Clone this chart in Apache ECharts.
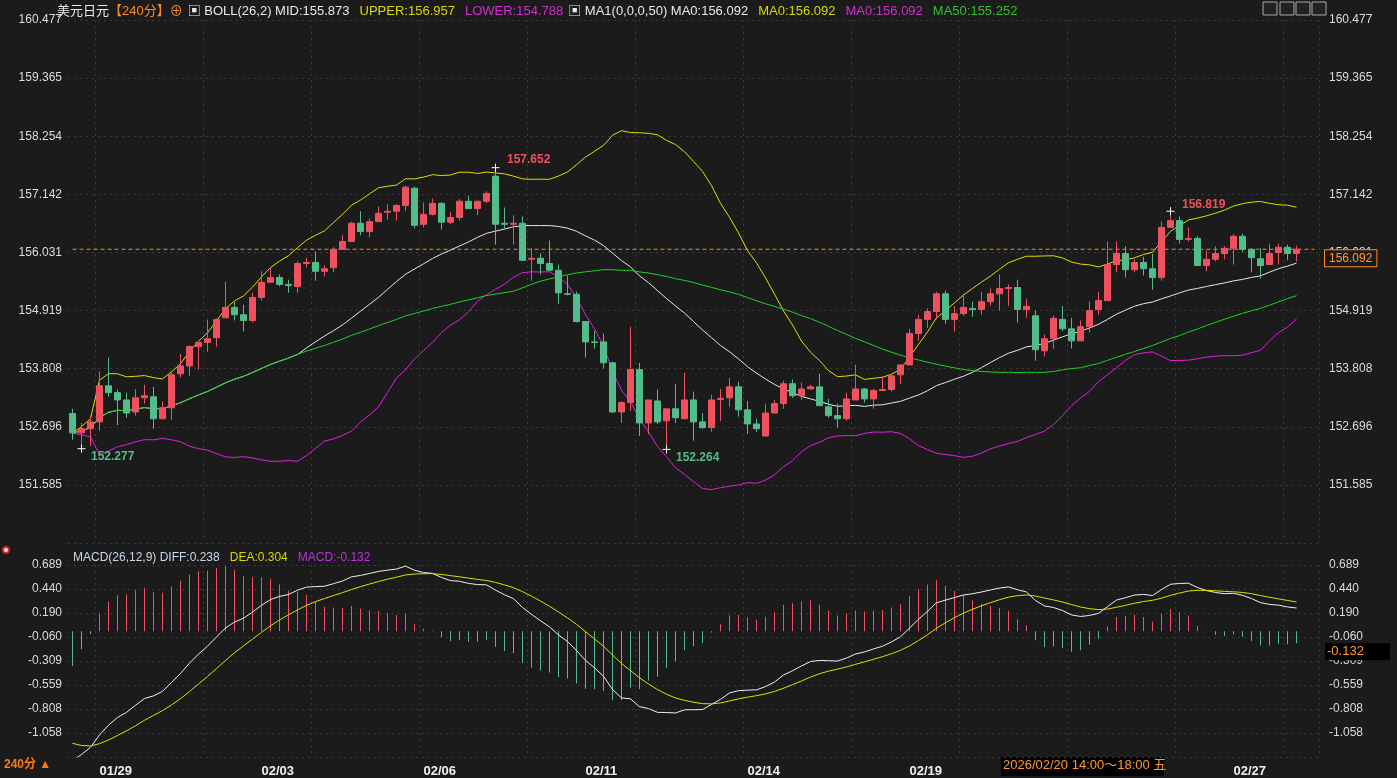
<!DOCTYPE html>
<html><head><meta charset="utf-8">
<script src="https://cdn.jsdelivr.net/npm/echarts@6/dist/echarts.min.js"></script>
<style>html,body{margin:0;padding:0;background:#1b1b1b}#c{width:1397px;height:778px}</style>
</head><body><div id="c"></div>
<script>
const opens=[152.95,152.58,152.66,152.79,153.48,153.35,153.21,152.98,153.25,153.27,
152.85,153.06,153.71,153.86,154.23,154.31,154.40,154.78,154.98,154.84,
154.73,155.17,155.46,155.55,155.42,155.38,155.82,155.84,155.67,155.74,
156.09,156.24,156.59,156.43,156.62,156.80,156.82,156.93,157.26,156.57,
156.76,156.97,156.61,156.70,157.01,156.87,157.01,157.49,156.59,156.57,
156.59,155.90,155.92,155.82,155.69,155.24,155.23,154.71,154.32,154.32,
153.92,152.98,153.16,153.79,152.77,153.19,152.81,153.04,152.85,153.21,
152.79,152.68,153.22,153.25,153.46,153.02,152.75,152.52,152.96,153.14,
153.52,153.29,153.42,153.46,153.08,152.91,152.85,153.21,153.42,153.23,
153.39,153.41,153.69,153.88,154.48,154.75,154.90,155.24,154.75,154.86,
154.96,154.94,155.09,155.24,155.34,155.36,154.94,154.82,154.15,154.38,
154.75,154.57,154.34,154.61,154.94,155.11,155.80,156.01,155.70,155.84,
155.72,155.55,156.51,156.64,156.28,156.30,155.78,155.90,156.01,156.11,
156.34,156.09,155.91,155.80,156.03,156.13,156.01];
const closes=[152.58,152.66,152.79,153.48,153.35,153.21,152.96,153.25,153.29,152.85,
153.06,153.69,153.86,154.23,154.31,154.38,154.75,154.98,154.84,154.73,
155.17,155.46,155.55,155.42,155.40,155.82,155.84,155.67,155.72,156.09,
156.24,156.59,156.43,156.62,156.78,156.82,156.93,157.28,156.55,156.76,
156.97,156.61,156.70,157.01,156.87,157.01,157.16,156.57,156.57,156.59,
155.88,155.92,155.82,155.69,155.26,155.23,154.71,154.32,154.31,153.92,
152.98,153.16,153.79,152.77,153.21,152.79,153.04,152.87,153.21,152.79,
152.68,153.21,153.24,153.46,153.02,152.75,152.66,152.96,153.14,153.52,
153.29,153.42,153.46,153.10,152.91,152.85,153.23,153.42,153.23,153.39,
153.41,153.67,153.88,154.48,154.75,154.90,155.24,154.75,154.86,154.98,
154.94,155.09,155.24,155.34,155.36,154.94,155.00,154.17,154.38,154.77,
154.57,154.34,154.61,154.92,155.11,155.80,156.01,155.70,155.84,155.72,
155.55,156.51,156.64,156.28,156.30,155.78,155.90,156.01,156.11,156.34,
156.09,155.93,155.78,156.01,156.13,156.01,156.092];
const lows=[152.45,152.277,152.33,152.62,153.27,152.73,152.87,152.91,153.14,152.66,
152.85,152.83,153.64,153.67,153.79,154.13,154.23,154.78,154.73,154.52,
154.69,155.11,155.46,155.38,155.26,155.26,155.74,155.49,155.57,155.65,
156.09,156.24,156.36,156.32,156.62,156.66,156.64,156.82,156.49,156.51,
156.74,156.47,156.57,156.64,156.87,156.74,156.97,156.18,156.49,156.18,
155.88,155.49,155.61,155.69,155.05,155.21,154.69,154.02,154.19,153.81,
152.96,152.77,153.00,152.52,152.56,152.75,152.264,152.77,152.85,152.43,
152.66,152.60,152.81,153.08,152.89,152.56,152.60,152.52,152.95,153.04,
153.25,153.21,153.42,153.10,152.87,152.68,152.81,153.21,153.16,153.04,
153.39,153.37,153.52,153.88,154.34,154.59,154.75,154.67,154.52,154.82,
154.80,154.84,155.01,154.92,155.01,154.69,154.78,153.96,154.04,154.19,
154.53,154.19,154.34,154.50,154.84,155.11,155.65,155.55,155.65,155.59,
155.32,155.49,156.51,156.20,156.24,155.78,155.67,155.86,155.90,155.80,
156.03,155.65,155.53,155.80,155.80,155.88,155.86];
const highs=[153.04,152.77,152.89,153.75,154.02,153.41,153.35,153.42,153.50,153.46,
153.18,153.75,154.09,154.25,154.34,154.75,154.77,155.47,155.09,155.03,
155.26,155.67,155.74,155.61,155.51,155.86,155.93,156.05,155.78,156.13,
156.36,156.62,156.82,156.68,156.91,156.95,156.95,157.31,157.29,156.99,
157.06,156.99,156.80,157.05,157.12,157.01,157.20,157.652,156.89,156.74,
156.72,156.11,156.01,156.26,155.80,155.59,155.28,154.71,154.53,154.48,
153.94,153.18,154.61,153.92,153.21,153.41,153.04,153.52,153.73,153.37,
152.96,153.31,153.42,153.63,153.56,153.19,152.85,153.14,153.21,153.58,
153.60,153.54,153.50,153.71,153.23,153.14,153.35,153.88,153.44,153.42,
153.66,153.71,153.88,154.57,154.84,154.96,155.28,155.30,155.00,155.24,
155.09,155.28,155.34,155.61,155.42,155.51,155.15,154.92,154.46,154.82,
155.01,154.78,154.73,155.09,155.28,156.24,156.24,156.15,155.90,155.95,
156.01,156.62,156.819,156.72,156.51,156.34,156.07,156.15,156.15,156.38,
156.39,156.11,156.11,156.20,156.20,156.18,156.16];
const dateTicks={3:'01/29',21:'02/03',39:'02/06',57:'02/11',75:'02/14',93:'02/19',129:'02/27'};
const mainTicks=[151.585,152.696,153.808,154.919,156.031,157.142,158.254,159.365,160.477];
const macdTicks=[0.689,0.440,0.190,-0.060,-0.309,-0.559,-0.808,-1.058];
// prior indicator state carried in from before the visible window
const emaSeed={e12:153.2,e26:154.6,dea:-1.12};
const lastPrice=156.092;
const lastMacd=-0.132;

const N=closes.length, NCAT=N+2;
const cats=[];for(let i=0;i<NCAT;i++)cats.push(String(i));
const kdata=opens.map((o,i)=>[o,closes[i],lows[i],highs[i]]);
const priceLine=cats.map(()=>lastPrice);
function maWin(n,i){const s=Math.max(0,i-n+1);let t=0;for(let j=s;j<=i;j++)t+=closes[j];return t/(i-s+1);}
const mid=[],up=[],lo=[],ma50=[];
for(let i=0;i<N;i++){
  const s=Math.max(0,i-25),m=maWin(26,i);let v=0;for(let j=s;j<=i;j++)v+=(closes[j]-m)**2;
  const sd=Math.sqrt(v/(i-s+1));
  mid.push(+m.toFixed(3));up.push(+(m+2*sd).toFixed(3));lo.push(+(m-2*sd).toFixed(3));
  ma50.push(+maWin(50,i).toFixed(3));
}
const diff=[],dea=[],hist=[];
let e12=emaSeed.e12,e26=emaSeed.e26,d=emaSeed.dea;
for(let i=0;i<N;i++){e12=e12+(closes[i]-e12)*2/13;e26=e26+(closes[i]-e26)*2/27;const df=e12-e26;d=d+(df-d)*0.2;
 diff.push(+df.toFixed(4));dea.push(+d.toFixed(4));hist.push(+(2*(df-d)).toFixed(4));}

const UPC='#f0515f',DNC='#52bd8a',ORG='#ff8a1f';
const font="'Liberation Sans','Noto Sans CJK SC',sans-serif";
const mainMin=151.585-1.1115,mainMax=160.477;
const macdMin=-1.058-0.2496,macdMax=0.689;
function fmtTick(ticks){return v=>{for(const t of ticks){if(Math.abs(v-t)<0.003)return t.toFixed(3);}return '';};}
const yLab={color:'#dcdcdc',fontSize:12,fontFamily:font};
const split={show:true,lineStyle:{color:'#3a3a3a',type:[2,4]}};
const xSplit={show:true,interval:(i)=>(i-3)%12===0,lineStyle:{color:'#3a3a3a',type:[2,4]}};
function rs(c,s){return {color:c,fontSize:s,fontFamily:font,fontWeight:'normal'};}
const chart=echarts.init(document.getElementById('c'));
chart.setOption({
 backgroundColor:'#1b1b1b',animation:false,
 title:[{left:52,top:-3,text:'{w|美元日元}{o|【240分】⊕} {w|▣ BOLL(26,2) MID:155.873}  {y|UPPER:156.957}  {m|LOWER:154.788} {w|▣ MA1(0,0,0,50) MA0:156.092}  {y|MA0:156.092}  {m|MA0:156.092}  {g|MA50:155.252}',
   textStyle:{fontWeight:'normal',rich:{w:rs('#e8e8e8',13),o:rs(ORG,13),y:rs('#d8d800',13),m:rs('#d030d0',13),g:rs('#30c030',13)}}},
  {left:68,top:544,text:'{w|MACD(26,12,9) DIFF:0.238}  {y|DEA:0.304}  {m|MACD:-0.132}',
   textStyle:{fontWeight:'normal',rich:{w:rs('#c8d8e8',12),y:rs('#d8d800',12),m:rs('#c030e0',12)}}}],
 grid:[{left:68,right:78,top:20,height:523},{left:68,right:78,top:565,height:192}],
 xAxis:[{type:'category',data:cats,gridIndex:0,boundaryGap:true,axisLine:{show:false},axisTick:{show:false},axisLabel:{show:false},splitLine:xSplit},
  {type:'category',data:cats,gridIndex:1,boundaryGap:true,axisLine:{show:false},axisTick:{show:false},splitLine:xSplit,
   axisLabel:{interval:0,formatter:(v)=>dateTicks[v]||'',color:'#f0f0f0',fontWeight:'bold',fontSize:13,fontFamily:font,align:'left',margin:8}}],
 yAxis:[{gridIndex:0,min:mainMin,max:mainMax,interval:1.1115,position:'left',axisLine:{show:false},axisTick:{show:false},splitLine:split,axisLabel:Object.assign({formatter:fmtTick(mainTicks),margin:6},yLab)},
  {gridIndex:0,min:mainMin,max:mainMax,interval:1.1115,position:'right',axisLine:{show:false},axisTick:{show:false},splitLine:{show:false},axisLabel:Object.assign({formatter:fmtTick(mainTicks),margin:10},yLab)},
  {gridIndex:1,min:macdMin,max:macdMax,interval:0.2496,position:'left',axisLine:{show:false},axisTick:{show:false},splitLine:split,axisLabel:Object.assign({formatter:fmtTick(macdTicks),margin:6},yLab)},
  {gridIndex:1,min:macdMin,max:macdMax,interval:0.2496,position:'right',axisLine:{show:false},axisTick:{show:false},splitLine:{show:false},axisLabel:Object.assign({formatter:fmtTick(macdTicks),margin:10},yLab)}],
 series:[
  {type:'line',data:priceLine,symbol:'none',lineStyle:{color:ORG,type:[4,3],width:1},xAxisIndex:0,yAxisIndex:0,z:1},
  {type:'candlestick',data:kdata,xAxisIndex:0,yAxisIndex:0,barWidth:7,z:3,
   itemStyle:{color:UPC,color0:DNC,borderColor:UPC,borderColor0:DNC,borderWidth:1},
   markLine:{silent:true,symbol:['none','none'],data:[{yAxis:lastPrice}],lineStyle:{color:'rgba(0,0,0,0)',width:1},
     label:{position:'end',distance:6,offset:[0,9],formatter:'156.092',color:'#ff9a30',fontSize:12,fontFamily:font,backgroundColor:'#1b1b1b',borderColor:ORG,borderWidth:1,padding:[2,4]}},
   markPoint:{symbol:'path://M0,5H10M5,0V10',symbolSize:8,itemStyle:{color:'none',borderColor:'#ffffff',borderWidth:1},
     data:[
      {coord:[47,157.652],label:{show:true,formatter:'157.652',position:'right',offset:[0,-8],color:'#f0515f',fontWeight:'bold',fontSize:12,fontFamily:font}},
      {coord:[122,156.819],label:{show:true,formatter:'156.819',position:'right',offset:[0,-7],color:'#f0515f',fontWeight:'bold',fontSize:12,fontFamily:font}},
      {coord:[1,152.277],label:{show:true,formatter:'152.277',position:'right',offset:[-2,8],color:DNC,fontWeight:'bold',fontSize:12,fontFamily:font}},
      {coord:[66,152.264],label:{show:true,formatter:'152.264',position:'right',offset:[-2,8],color:DNC,fontWeight:'bold',fontSize:12,fontFamily:font}}]}},
  {type:'line',data:mid,symbol:'none',lineStyle:{color:'#e8e8e8',width:1},xAxisIndex:0,yAxisIndex:0},
  {type:'line',data:up,symbol:'none',lineStyle:{color:'#e0e000',width:1},xAxisIndex:0,yAxisIndex:0},
  {type:'line',data:lo,symbol:'none',lineStyle:{color:'#e020e0',width:1},xAxisIndex:0,yAxisIndex:0},
  {type:'line',data:ma50,symbol:'none',lineStyle:{color:'#20d020',width:1},xAxisIndex:0,yAxisIndex:0},
  {type:'bar',data:hist,xAxisIndex:1,yAxisIndex:2,barWidth:1,itemStyle:{color:(p)=>p.value>=0?UPC:DNC}},
  {type:'line',data:diff,symbol:'none',lineStyle:{color:'#f0f0f0',width:1},xAxisIndex:1,yAxisIndex:2},
  {type:'line',data:dea,symbol:'none',lineStyle:{color:'#e0e000',width:1},xAxisIndex:1,yAxisIndex:2,
   markLine:{silent:true,symbol:['none','none'],data:[{yAxis:lastMacd}],lineStyle:{color:'rgba(0,0,0,0)',width:1},
    label:{show:true,position:'end',distance:6,offset:[0,8],formatter:'-0.132',color:'#ff9a30',fontSize:13,fontFamily:font,backgroundColor:'#000',padding:[2,26,2,2]}}}
 ],
 graphic:[
  {type:'text',left:4,top:759,style:{text:'240分 ▲',fill:'#ff7a10',font:'bold 12px '+font}},
  {type:'circle',shape:{cx:6,cy:550,r:3},style:{fill:'#fff',stroke:'#e02020',lineWidth:2}},
  {type:'rect',shape:{x:1001,y:757,width:163,height:19},style:{fill:'#000'}},
  {type:'text',left:1003,top:759,style:{text:'2026/02/20 14:00～18:00 五',fill:'#ff9a30',font:'13px '+font}},
  {type:'rect',shape:{x:1263,y:2,width:14,height:13},style:{fill:'#222',stroke:'#aaa'}},
  {type:'rect',shape:{x:1280,y:2,width:14,height:13},style:{fill:'#222',stroke:'#aaa'}},
  {type:'rect',shape:{x:1296,y:2,width:14,height:13},style:{fill:'#222',stroke:'#aaa'}},
  {type:'rect',shape:{x:1312,y:2,width:14,height:13},style:{fill:'#222',stroke:'#aaa'}}
 ]
});
</script></body></html>
